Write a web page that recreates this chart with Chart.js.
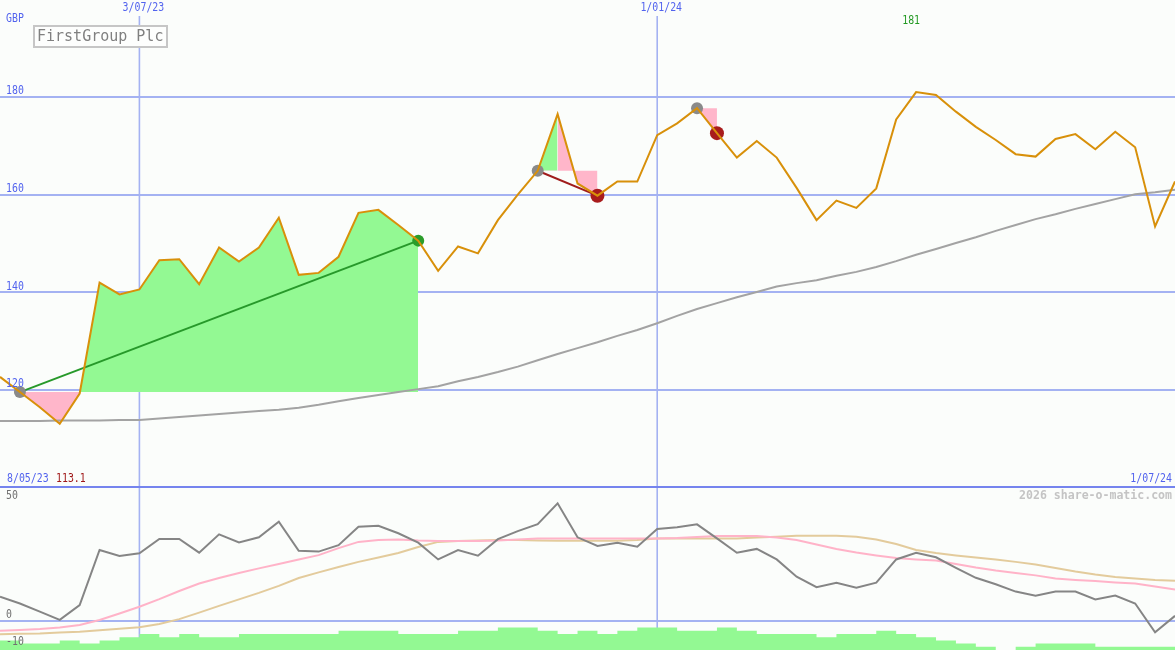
<!DOCTYPE html>
<html>
<head>
<meta charset="utf-8">
<script src="https://cdn.jsdelivr.net/npm/chart.js@4.4.1/dist/chart.umd.min.js"></script>
<style>
  html, body { margin: 0; padding: 0; background: #fbfdfb; }
  #wrap { position: relative; width: 1175px; height: 650px; overflow: hidden; }
  canvas { position: absolute; left: 0; }
  #price { top: 0; }
  #osc { top: 486px; }
</style>
</head>
<body>
<div id="wrap">
  <canvas id="price" width="1175" height="486"></canvas>
  <canvas id="osc" width="1175" height="164"></canvas>
</div>
<script>
// weekly closes, FirstGroup Plc (GBP pence)
const weeks = [
  '15/05/23', '22/05/23', '29/05/23', '5/06/23', '12/06/23', '19/06/23', '26/06/23',
  '3/07/23', '10/07/23', '17/07/23', '24/07/23', '31/07/23', '7/08/23', '14/08/23', '21/08/23', '28/08/23',
  '4/09/23', '11/09/23', '18/09/23', '25/09/23', '2/10/23', '9/10/23', '16/10/23', '23/10/23', '30/10/23',
  '6/11/23', '13/11/23', '20/11/23', '27/11/23', '4/12/23', '11/12/23', '18/12/23', '25/12/23',
  '1/01/24', '8/01/24', '15/01/24', '22/01/24', '29/01/24', '5/02/24', '12/02/24', '19/02/24', '26/02/24',
  '4/03/24', '11/03/24', '18/03/24', '25/03/24', '1/04/24', '8/04/24', '15/04/24', '22/04/24', '29/04/24',
  '6/05/24', '13/05/24', '20/05/24', '27/05/24', '3/06/24', '10/06/24', '17/06/24', '24/06/24', '1/07/24'
];
const price = [
  122.7, 119.6, 116.5, 113.1, 119.3, 142.0, 139.6, 140.6,
  146.6, 146.8, 141.7, 149.2, 146.3, 149.2, 155.3, 143.6,
  144.0, 147.3, 156.3, 156.9, 153.8, 150.6, 144.4, 149.4,
  148.0, 154.8, 160.0, 164.9, 176.5, 162.3, 159.8, 162.7,
  162.7, 172.2, 174.6, 177.7, 172.6, 167.6, 171.0, 167.6,
  161.4, 154.8, 158.8, 157.3, 161.3, 175.4, 181.0, 180.4,
  177.0, 173.9, 171.2, 168.3, 167.8, 171.4, 172.4, 169.3,
  172.9, 169.7, 153.5, 162.7
];
const movingAvg = [
  113.7, 113.7, 113.7, 113.8, 113.8, 113.8, 113.9, 113.9,
  114.2, 114.5, 114.8, 115.1, 115.4, 115.7, 116.0, 116.4,
  117.0, 117.7, 118.4, 119.0, 119.6, 120.2, 120.8, 121.8,
  122.7, 123.7, 124.8, 126.1, 127.4, 128.6, 129.8, 131.1,
  132.3, 133.7, 135.2, 136.6, 137.8, 139.0, 140.1, 141.2,
  141.9, 142.5, 143.4, 144.2, 145.2, 146.4, 147.7, 148.9,
  150.1, 151.3, 152.6, 153.8, 155.0, 156.0, 157.1, 158.1,
  159.1, 160.1, 160.5, 161.0
];
const oscMain = [
  9.0, 6.5, 3.5, 0.4, 5.9, 26.3, 24.1, 25.1,
  30.4, 30.4, 25.3, 32.1, 29.1, 31.0, 36.8, 26.0,
  25.7, 28.1, 34.9, 35.3, 32.5, 29.0, 22.8, 26.3,
  24.2, 30.3, 33.3, 35.9, 43.6, 31.0, 27.8, 29.0,
  27.5, 34.1, 34.7, 35.8, 30.6, 25.3, 26.7, 22.8,
  16.4, 12.5, 14.2, 12.3, 14.2, 22.8, 25.3, 23.6,
  19.7, 16.0, 13.6, 10.9, 9.4, 10.9, 10.9, 8.0,
  9.4, 6.5, -4.2, 1.9
];
const oscFast = [
  -3.6, -3.3, -3.0, -2.4, -1.5, 0.4, 2.8, 5.3,
  8.1, 11.1, 13.9, 15.9, 17.8, 19.5, 21.1, 22.8,
  24.4, 27.0, 29.3, 30.0, 30.2, 29.8, 29.6, 29.6,
  29.6, 29.8, 30.2, 30.6, 30.6, 30.6, 30.6, 30.6,
  30.6, 30.6, 30.7, 31.1, 31.5, 31.5, 31.5, 30.9,
  30.0, 28.3, 26.7, 25.4, 24.3, 23.3, 22.8, 22.4,
  21.1, 19.8, 18.7, 17.8, 16.9, 15.7, 15.2, 14.8,
  14.3, 13.9, 12.8, 11.7
];
const oscSlow = [
  -4.9, -4.7, -4.6, -4.3, -4.0, -3.4, -2.9, -2.3,
  -1.1, 0.7, 3.1, 5.6, 8.0, 10.4, 13.0, 15.9,
  18.0, 20.0, 21.9, 23.5, 25.2, 27.4, 29.3, 29.6,
  29.8, 30.0, 30.0, 29.8, 29.7, 29.7, 29.7, 29.7,
  30.0, 30.6, 30.6, 30.6, 30.6, 30.6, 30.9, 31.2,
  31.6, 31.6, 31.6, 31.2, 30.2, 28.5, 26.3, 25.2,
  24.3, 23.5, 22.8, 21.9, 20.9, 19.6, 18.3, 17.2,
  16.3, 15.7, 15.2, 14.9
];
const volume = [
  3, 3, 2, 2, 3, 2, 3, 4,
  5, 4, 5, 4, 4, 5, 5, 5,
  5, 5, 6, 6, 6, 5, 5, 5,
  6, 6, 7, 7, 6, 5, 6, 5,
  6, 7, 7, 6, 6, 7, 6, 5,
  5, 5, 4, 5, 5, 6, 5, 4,
  3, 2, 1, 0, 1, 2, 2, 2,
  1, 1, 1, 1
];
const priceTicks = [120, 140, 160, 180];
const oscTicks = [50, 0, -10];
const dateMarks = ['3/07/23', '1/01/24'];
// buy / sell signals (week index)
const trades = [
  { open: 1, close: 21 },
  { open: 27, close: 30 },
  { open: 35, close: 36 }
];

const GREEN_FILL = '#93f993';
const PINK_FILL = '#ffb6ca';
const GRID = '#a4b2f2';
const BLUE_TXT = '#5263ee';
const FONT = '12px "DejaVu Sans Mono"';

function span(arr, a, b) {
  return arr.map((v, i) => (i >= a && i <= b ? v : null));
}
function label(ctx, text, x, y, color, align, font, perChar) {
  ctx.save();
  ctx.font = font || FONT;
  ctx.fillStyle = color;
  ctx.textAlign = align || 'left';
  ctx.textBaseline = 'middle';
  ctx.fillText(text, x, y, text.length * (perChar || 5.95));
  ctx.restore();
}

// filled bands between the price and the entry level of each trade
const bands = [
  { from: 1, to: 21, lvl: price[1], above: GREEN_FILL, below: PINK_FILL },
  { from: 27, to: 28, lvl: price[27], above: GREEN_FILL, below: PINK_FILL },
  { from: 28, to: 30, lvl: price[27], above: PINK_FILL, below: PINK_FILL },
  { from: 35, to: 36, lvl: price[35], above: PINK_FILL, below: PINK_FILL }
];
const bandSets = bands.map(b => ({
  data: span(price, b.from, b.to),
  borderWidth: 0,
  pointRadius: 0,
  fill: { target: { value: b.lvl }, above: b.above, below: b.below },
  order: 10
}));

const dots = price.map(() => null);
const dotColor = price.map(() => null);
const dotSize = price.map(() => 0);
trades.forEach(t => {
  dots[t.open] = price[t.open];
  dotColor[t.open] = '#8a8a8a';
  dotSize[t.open] = 6;
  dots[t.close] = price[t.close];
  const up = price[t.close] > price[t.open];
  dotColor[t.close] = up ? '#2a9d2a' : '#a81c1c';
  dotSize[t.close] = up ? 6 : 7;
});

const trendSets = trades.slice(0, 2).map(t => {
  const d = price.map(() => null);
  d[t.open] = price[t.open];
  d[t.close] = price[t.close];
  return {
    data: d,
    spanGaps: true,
    borderColor: price[t.close] > price[t.open] ? '#27992a' : '#a01c1c',
    borderWidth: 2,
    pointRadius: 0,
    fill: false,
    order: 6
  };
});

const priceDecor = {
  id: 'priceDecor',
  beforeDatasetsDraw(chart) {
    const { ctx, scales: { x, y }, width } = chart;
    ctx.save();
    ctx.strokeStyle = GRID;
    ctx.lineWidth = 2;
    priceTicks.forEach(v => {
      const py = Math.round(y.getPixelForValue(v));
      ctx.beginPath(); ctx.moveTo(0, py); ctx.lineTo(width, py); ctx.stroke();
    });
    ctx.lineWidth = 1.6;
    dateMarks.forEach(d => {
      const px = x.getPixelForValue(weeks.indexOf(d));
      ctx.beginPath(); ctx.moveTo(px, 16); ctx.lineTo(px, chart.height); ctx.stroke();
    });
    ctx.restore();
  },
  afterDatasetsDraw(chart) {
    const { ctx, scales: { x, y } } = chart;
    label(ctx, 'GBP', 6, 19, BLUE_TXT);
    priceTicks.forEach(v => label(ctx, String(v), 6, y.getPixelForValue(v) - 6, BLUE_TXT));
    dateMarks.forEach(d => label(ctx, d, x.getPixelForValue(weeks.indexOf(d)) + 4, 8, BLUE_TXT, 'center'));
    const hi = Math.max(...price);
    label(ctx, String(Math.round(hi)), x.getPixelForValue(price.indexOf(hi)) - 5, 21, '#229922', 'center');
    label(ctx, '8/05/23', 7, 479, BLUE_TXT);
    label(ctx, Math.min(...price).toFixed(1), 56, 479, '#a01818');
    label(ctx, weeks[weeks.length - 1], 1172, 479, BLUE_TXT, 'right');
    // title box
    ctx.save();
    ctx.fillStyle = '#fdfefd';
    ctx.fillRect(34, 26, 133, 21);
    ctx.strokeStyle = '#c6c6c6';
    ctx.lineWidth = 2;
    ctx.strokeRect(34, 26, 133, 21);
    ctx.restore();
    label(ctx, 'FirstGroup Plc', 37, 37, '#808080', 'left', '15px "DejaVu Sans Mono"', 9.03);
  }
};

new Chart(document.getElementById('price'), {
  type: 'line',
  data: {
    labels: weeks,
    datasets: [
      ...bandSets,
      { data: movingAvg, borderColor: '#a3a3a3', borderWidth: 2, pointRadius: 0, fill: false, order: 8 },
      ...trendSets,
      {
        data: dots, showLine: false, fill: false,
        pointRadius: c => dotSize[c.dataIndex],
        pointBackgroundColor: c => dotColor[c.dataIndex],
        pointBorderWidth: 0,
        order: 5
      },
      { data: price, borderColor: '#d8900a', borderWidth: 2, pointRadius: 0, fill: false, order: 1 }
    ]
  },
  options: {
    responsive: false,
    animation: false,
    devicePixelRatio: 1,
    layout: { padding: 0 },
    plugins: { legend: { display: false }, tooltip: { enabled: false } },
    elements: { line: { tension: 0 } },
    scales: {
      x: { display: false },
      y: { display: false, min: 100.37, max: 199.86 }
    }
  },
  plugins: [priceDecor]
});

const oscDecor = {
  id: 'oscDecor',
  beforeDatasetsDraw(chart) {
    const { ctx, scales: { x, y }, width } = chart;
    ctx.save();
    ctx.strokeStyle = GRID;
    ctx.lineWidth = 2;
    const py = Math.round(y.getPixelForValue(0));
    ctx.beginPath(); ctx.moveTo(0, py); ctx.lineTo(width, py); ctx.stroke();
    ctx.lineWidth = 1.6;
    dateMarks.forEach(d => {
      const px = x.getPixelForValue(weeks.indexOf(d));
      ctx.beginPath(); ctx.moveTo(px, 0); ctx.lineTo(px, chart.height); ctx.stroke();
    });
    ctx.restore();
  },
  afterDatasetsDraw(chart) {
    const { ctx, scales: { y }, width } = chart;
    ctx.save();
    ctx.fillStyle = '#7584ee';
    ctx.fillRect(0, 0, width, 2);
    ctx.restore();
    oscTicks.forEach(v => label(ctx, String(v), 6, Math.max(y.getPixelForValue(v) - 6, 10), '#707070'));
    label(ctx, '2026 share-o-matic.com', 1172, 10, '#c4c4c4', 'right', 'bold 12px "DejaVu Sans Mono"', 6.95);
  }
};

new Chart(document.getElementById('osc'), {
  type: 'line',
  data: {
    labels: weeks,
    datasets: [
      { data: volume, yAxisID: 'yv', stepped: 'after', borderWidth: 0, pointRadius: 0,
        backgroundColor: GREEN_FILL, fill: 'origin', order: 10 },
      { data: oscSlow, borderColor: '#e3cb9c', borderWidth: 2, pointRadius: 0, fill: false, order: 4 },
      { data: oscFast, borderColor: '#ffb3c8', borderWidth: 2, pointRadius: 0, fill: false, order: 3 },
      { data: oscMain, borderColor: '#858585', borderWidth: 2, pointRadius: 0, fill: false, order: 1 }
    ]
  },
  options: {
    responsive: false,
    animation: false,
    devicePixelRatio: 1,
    layout: { padding: 0 },
    plugins: { legend: { display: false }, tooltip: { enabled: false } },
    elements: { line: { tension: 0 } },
    scales: {
      x: { display: false },
      y: { display: false, min: -10.74, max: 50 },
      yv: { display: false, min: 0, max: 51.25 }
    }
  },
  plugins: [oscDecor]
});
</script>
</body>
</html>
